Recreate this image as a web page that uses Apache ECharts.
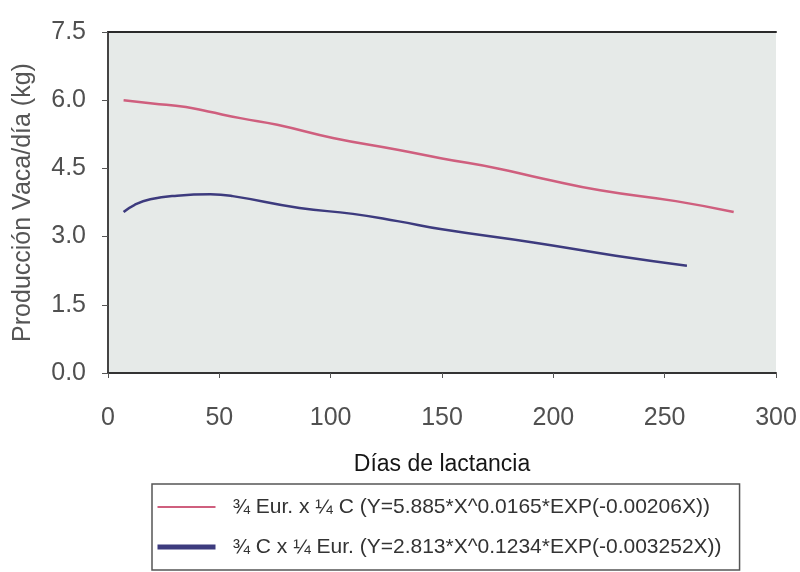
<!DOCTYPE html>
<html>
<head>
<meta charset="utf-8">
<script src="https://cdn.jsdelivr.net/npm/echarts@6/dist/echarts.min.js"></script>
<style>
html,body{margin:0;padding:0;background:#fff;}
#chart{width:800px;height:572px;}
</style>
</head>
<body>
<div id="chart"></div>
<script>
var seriesNames = [
  '\u00BE Eur. x \u00BC C (Y=5.885*X^0.0165*EXP(-0.00206X))',
  '\u00BE C x \u00BC Eur. (Y=2.813*X^0.1234*EXP(-0.003252X))'
];
var daysPink  = [7, 20, 35, 45, 60, 76, 101, 130, 150, 175, 195, 221, 255, 281];
var yieldPink = [6.0, 5.93, 5.85, 5.75, 5.6, 5.46, 5.17, 4.91, 4.72, 4.5, 4.28, 4.02, 3.78, 3.54];
var daysBlue  = [7, 12, 19, 31, 46, 56, 86, 110, 130, 150, 191, 228, 260];
var yieldBlue = [3.54, 3.7, 3.82, 3.9, 3.93, 3.89, 3.63, 3.5, 3.34, 3.16, 2.87, 2.58, 2.36];
var xTicks = [0, 50, 100, 150, 200, 250, 300];
var yTicks = [0.0, 1.5, 3.0, 4.5, 6.0, 7.5];

function pairs(xs, ys){ return xs.map(function(x,i){ return [x, ys[i]]; }); }

var FONT = 'Liberation Sans, Arial, sans-serif';
var chart = echarts.init(document.getElementById('chart'));
chart.setOption({
  animation:false,
  backgroundColor:'#ffffff',
  grid:{left:108, right:24, top:32, bottom:199, show:true, backgroundColor:'#e6eae8', borderWidth:0},
  xAxis:[{
    type:'value', min:xTicks[0], max:xTicks[xTicks.length-1], interval:50,
    name:'D\u00EDas de lactancia', nameLocation:'middle', nameGap:80,
    nameTextStyle:{color:'#151515', fontSize:23, fontFamily:FONT},
    axisLine:{show:true, lineStyle:{color:'#333', width:2}},
    axisTick:{show:true, length:5, lineStyle:{color:'#555'}},
    axisLabel:{margin:33, color:'#505050', fontSize:25, fontFamily:FONT},
    splitLine:{show:false}
  },{
    type:'value', position:'top', min:0, max:300,
    axisLine:{show:true, lineStyle:{color:'#2a2a2a', width:2}},
    axisTick:{show:false}, axisLabel:{show:false}, splitLine:{show:false}
  }],
  yAxis:{
    type:'value', min:yTicks[0], max:yTicks[yTicks.length-1], interval:1.5,
    name:'Producci\u00F3n Vaca/d\u00EDa (kg)', nameLocation:'middle', nameGap:72,
    nameTextStyle:{color:'#555', fontSize:25, fontFamily:FONT},
    axisLine:{show:true, lineStyle:{color:'#444', width:2}},
    axisTick:{show:true, length:6, lineStyle:{color:'#555'}},
    axisLabel:{margin:22, color:'#505050', fontSize:25, fontFamily:FONT,
      formatter:function(v){return v.toFixed(1);}},
    splitLine:{show:false}
  },
  legend:{
    orient:'vertical', left:152, top:484,
    borderColor:'#555', borderWidth:1.5,
    padding:[11, 18, 11, 3],
    itemWidth:58, itemHeight:14, itemGap:16,
    textStyle:{color:'#333', fontSize:21, lineHeight:24, fontFamily:FONT, padding:[0,0,0,12]},
    data:[
      {name:seriesNames[0], lineStyle:{width:2}, itemStyle:{opacity:0}},
      {name:seriesNames[1], lineStyle:{width:5}, itemStyle:{opacity:0}}
    ]
  },
  series:[{
    name:seriesNames[0], type:'line', smooth:true, showSymbol:false, symbol:'none',
    data:pairs(daysPink, yieldPink),
    lineStyle:{color:'#cf5f7e', width:2.5}, itemStyle:{color:'#cf5f7e'}
  },{
    name:seriesNames[1], type:'line', smooth:true, showSymbol:false, symbol:'none',
    data:pairs(daysBlue, yieldBlue),
    lineStyle:{color:'#3d3b7e', width:2.5}, itemStyle:{color:'#3d3b7e'}
  }]
});
</script>
</body>
</html>
